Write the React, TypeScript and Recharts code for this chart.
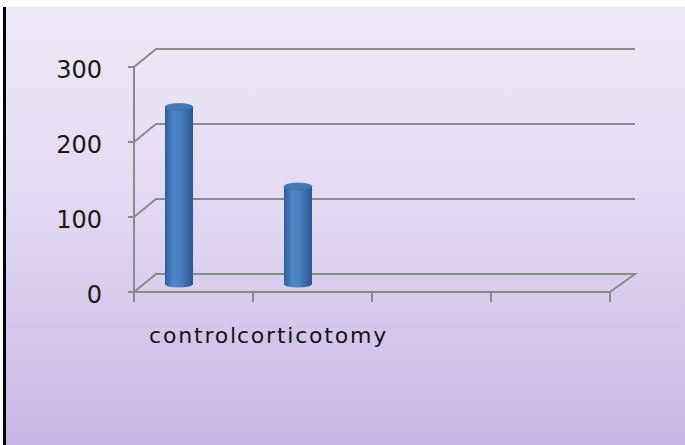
import React from 'react';
import { BarChart, Bar, XAxis, YAxis, CartesianGrid } from 'recharts';

const categories = ['control', 'corticotomy', '', ''];
const values: (number | null)[] = [236, 130, null, null];
const yTicks = [0, 100, 200, 300];

const data = categories.map((c, i) => ({ name: c, value: values[i] }));

const GRID = '#8b8b8b';
const DEPTH_X = 22;
const DEPTH_Y = -18;
const BACK_RIGHT_X = 25;

const Cylinder = (props: any) => {
  const { x, y, width, height } = props;
  if (height == null || !(height > 0)) return null;
  const cx = x + width / 2 - 15;
  const top = y - 8;
  const bottom = y + height - 8;
  const rx = width / 2;
  const ry = 3.5;
  const l = cx - rx;
  const r = cx + rx;
  return (
    <g>
      <path
        d={`M${l},${top} L${l},${bottom} A${rx},${ry} 0 0 0 ${r},${bottom} L${r},${top} Z`}
        fill="url(#cylBody)"
      />
      <ellipse cx={cx} cy={top} rx={rx} ry={ry} fill="#4477b6" stroke="#3767a6" strokeWidth={0.6} />
    </g>
  );
};

const GridLine = (props: any) => {
  const { x1, y1, x2, index, y, height } = props;
  const isFloor = y != null && height != null ? Math.abs(y1 - (y + height)) < 1 : index === 0;
  const bx1 = x1 + DEPTH_X;
  const by = y1 + DEPTH_Y;
  const bx2 = x2 + BACK_RIGHT_X;
  let d = `M${x1},${y1} L${bx1},${by} L${bx2},${by}`;
  if (isFloor) d += ` L${x2},${y1}`;
  return <path key={`g-${index}`} d={d} fill="none" stroke={GRID} strokeWidth={2} />;
};

const XTick = (props: any) => {
  const { x, y, payload, index } = props;
  const half = payload && typeof payload.offset === 'number' && payload.offset > 0 ? payload.offset : 59.5;
  return (
    <g>
      {index === 0 && <line x1={x - half} y1={y} x2={x - half} y2={y + 10} stroke={GRID} strokeWidth={2} />}
      <line x1={x + half} y1={y} x2={x + half} y2={y + 10} stroke={GRID} strokeWidth={2} />
      <text
        x={x}
        y={y + 51}
        textAnchor="middle"
        fill="#151515"
        fontSize={22}
        fontFamily="DejaVu Sans"
        letterSpacing={1.8}
      >
        {payload.value}
      </text>
    </g>
  );
};

export default function App() {
  return (
    <div style={{ position: 'absolute', left: 0, top: 0, width: 685, height: 445, background: '#ffffff', overflow: 'hidden' }}>
      <div
        style={{
          position: 'absolute',
          left: 3,
          top: 7,
          width: 679,
          height: 438,
          borderLeft: '3px solid #000',
          background: 'linear-gradient(to bottom, #efe9f7 0%, #e3d9f2 45%, #c7b6e5 100%)',
        }}
      />
      <div style={{ position: 'absolute', left: 0, top: 0 }}>
        <BarChart
          width={685}
          height={445}
          data={data}
          margin={{ top: 67, right: 75, left: 74, bottom: 113 }}
          barSize={28}
        >
          <defs>
            <linearGradient id="cylBody" x1="0" y1="0" x2="1" y2="0">
              <stop offset="0%" stopColor="#2f5e9a" />
              <stop offset="30%" stopColor="#4f86c8" />
              <stop offset="55%" stopColor="#4a80c2" />
              <stop offset="100%" stopColor="#2b5791" />
            </linearGradient>
          </defs>
          <CartesianGrid vertical={false} horizontal={(p: any) => <GridLine {...p} />} />
          <XAxis
            dataKey="name"
            type="category"
            interval={0}
            tickSize={0}
            tickMargin={0}
            tickLine={false}
            axisLine={{ stroke: GRID, strokeWidth: 2 }}
            tick={(p: any) => <XTick {...p} />}
            height={40}
          />
          <YAxis
            domain={[0, 300]}
            ticks={yTicks}
            interval={0}
            width={60}
            tickSize={6}
            tickMargin={26}
            axisLine={{ stroke: GRID, strokeWidth: 2 }}
            tickLine={{ stroke: GRID, strokeWidth: 2 }}
            tick={{ fontSize: 24, fontFamily: 'DejaVu Sans', fill: '#1a1a1a', dy: 2 }}
          />
          <Bar dataKey="value" isAnimationActive={false} shape={(p: any) => <Cylinder {...p} />} />
        </BarChart>
      </div>
    </div>
  );
}
